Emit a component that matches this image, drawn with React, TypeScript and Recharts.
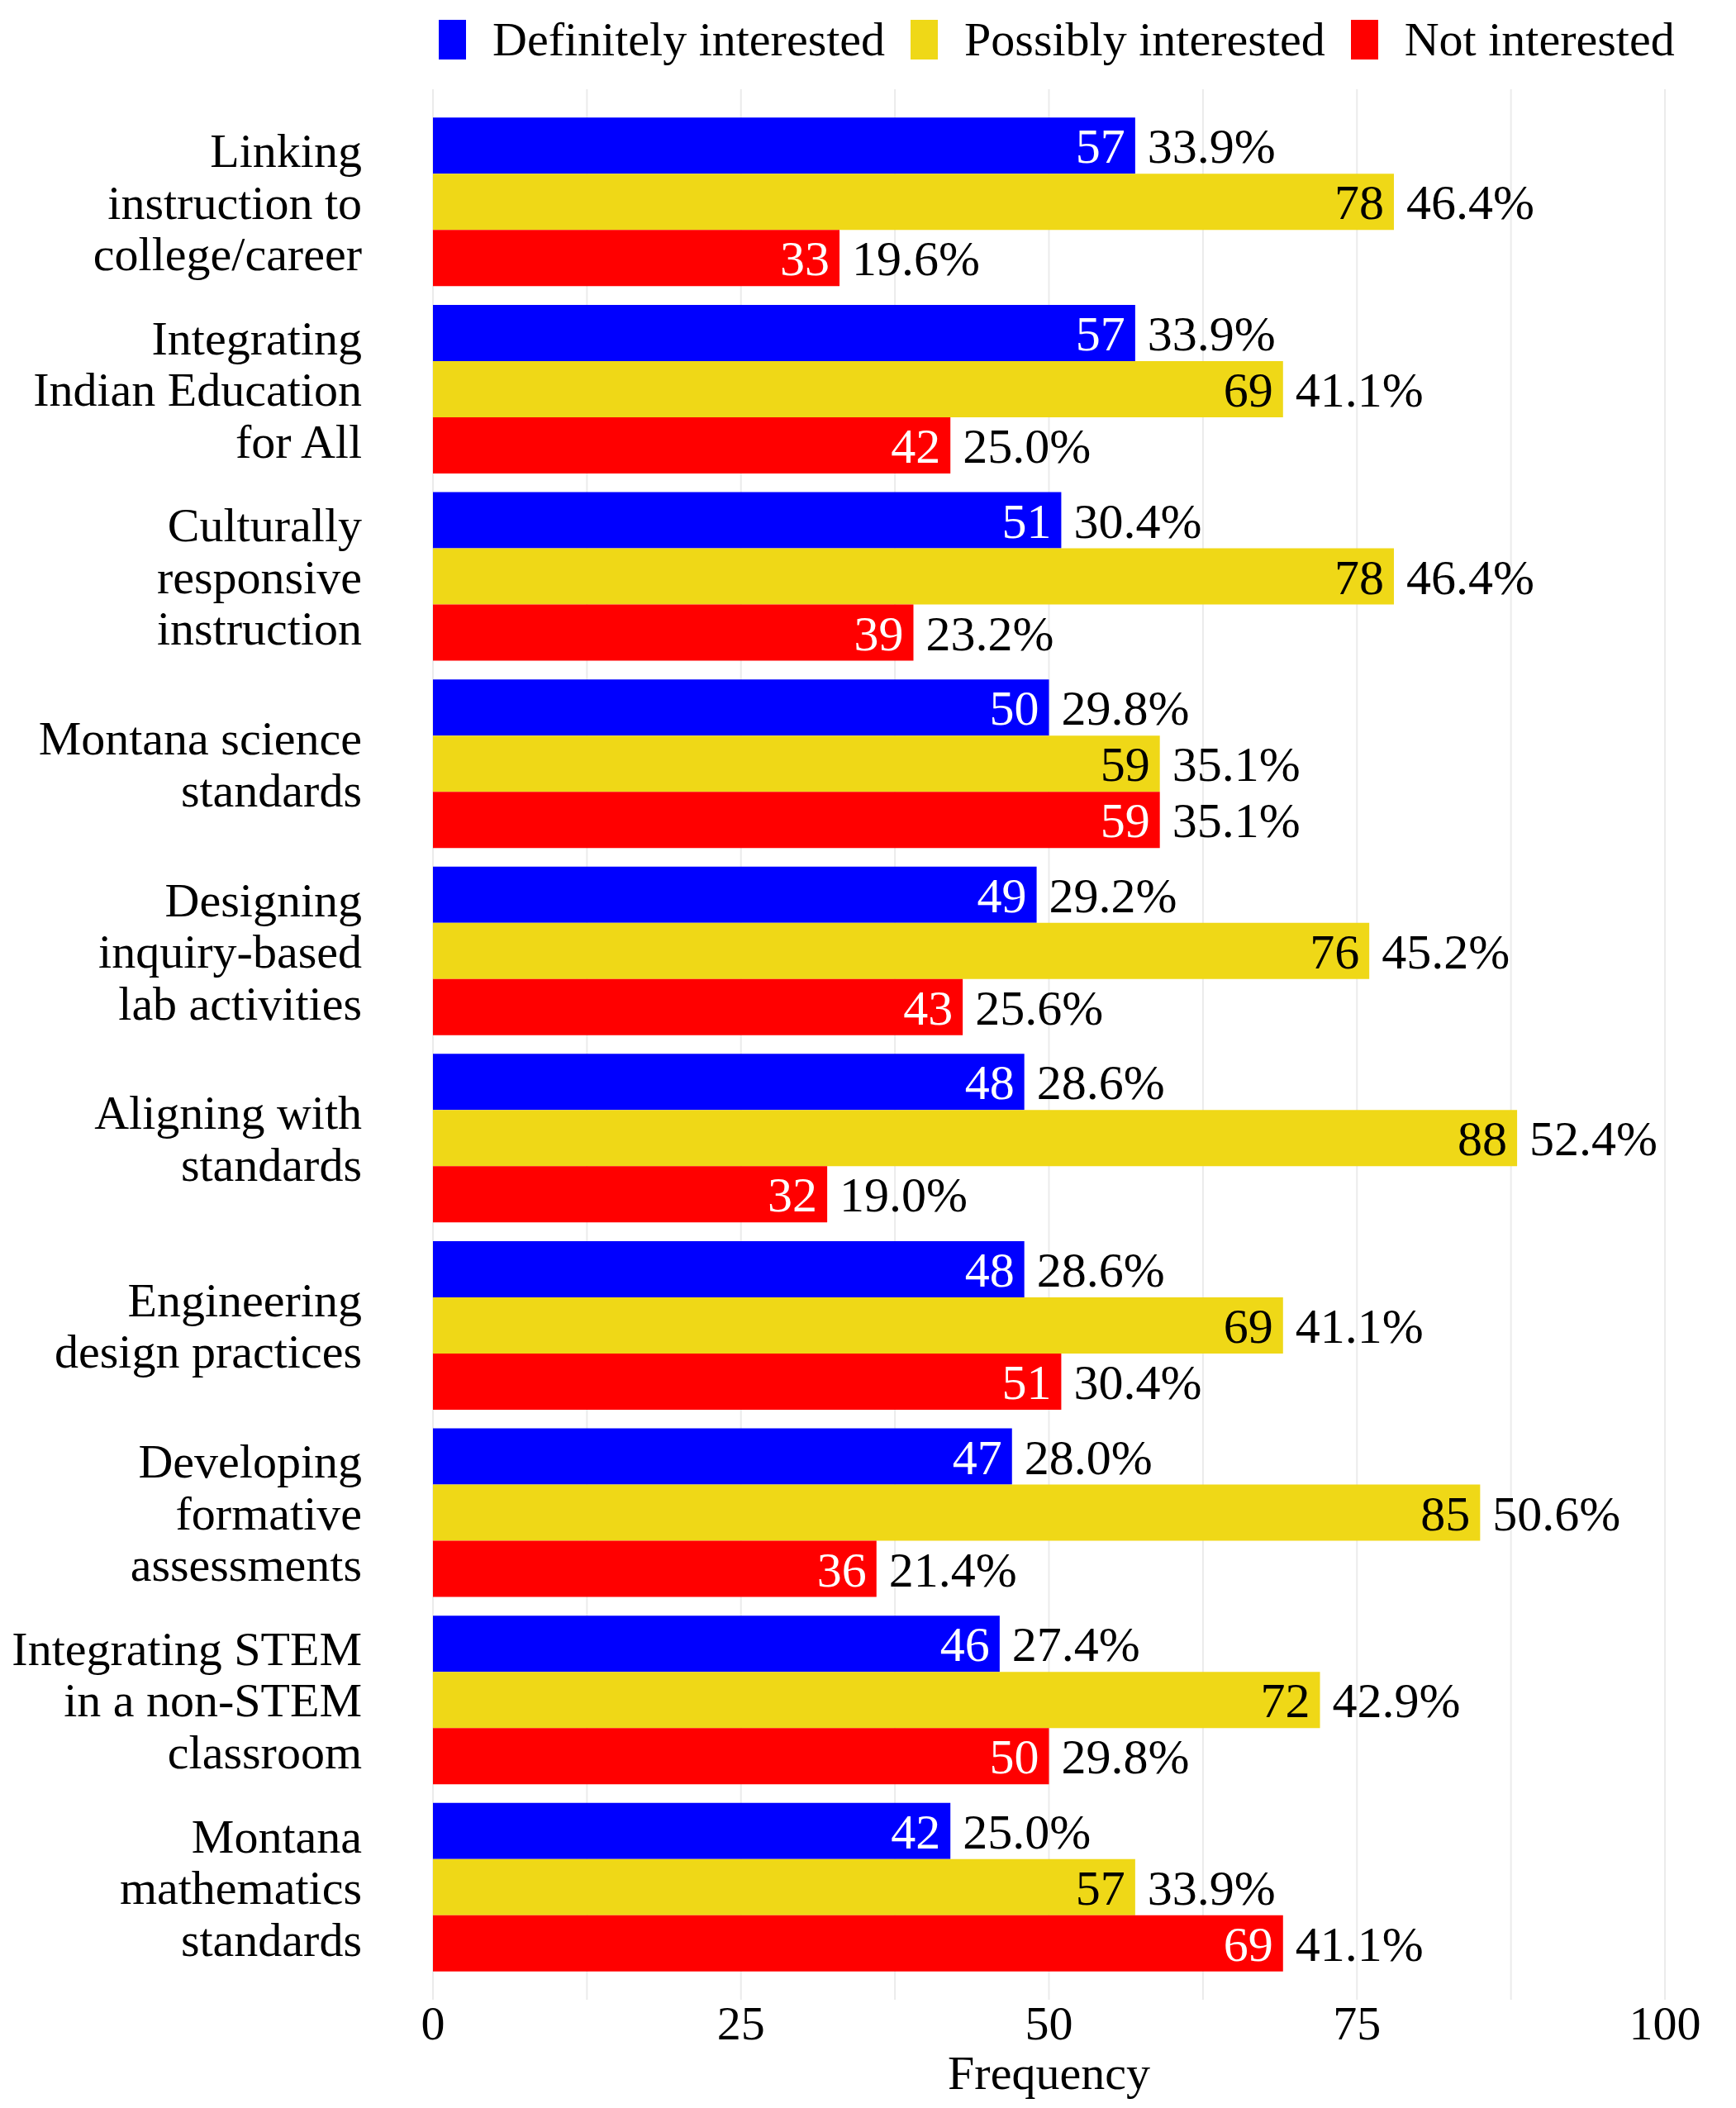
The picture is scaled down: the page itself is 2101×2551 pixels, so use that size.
import { BarChart, Bar, XAxis, YAxis, CartesianGrid, Legend, LabelList } from "recharts";

const FONT = '"Liberation Serif", "Times New Roman", serif';

// Topic labels, top to bottom, with their line breaks
const categories = [
	"Linking\ninstruction to\ncollege/career",
	"Integrating\nIndian Education\nfor All",
	"Culturally\nresponsive\ninstruction",
	"Montana science\nstandards",
	"Designing\ninquiry-based\nlab activities",
	"Aligning with\nstandards",
	"Engineering\ndesign practices",
	"Developing\nformative\nassessments",
	"Integrating STEM\nin a non-STEM\nclassroom",
	"Montana\nmathematics\nstandards",
];

// Counts per response
const definitely = [57, 57, 51, 50, 49, 48, 48, 47, 46, 42];
const possibly = [78, 69, 78, 59, 76, 88, 69, 85, 72, 57];
const notInterested = [33, 42, 39, 59, 43, 32, 51, 36, 50, 69];

// Percent labels shown next to each bar
const definitelyPct = ["33.9%", "33.9%", "30.4%", "29.8%", "29.2%", "28.6%", "28.6%", "28.0%", "27.4%", "25.0%"];
const possiblyPct = ["46.4%", "41.1%", "46.4%", "35.1%", "45.2%", "52.4%", "41.1%", "50.6%", "42.9%", "33.9%"];
const notPct = ["19.6%", "25.0%", "23.2%", "35.1%", "25.6%", "19.0%", "30.4%", "21.4%", "29.8%", "41.1%"];

// Grid positions (major every 25, minor in between)
const xTicks = [0, 12.5, 25, 37.5, 50, 62.5, 75, 87.5, 100];

const series = [
	{ key: "definitely", name: "Definitely interested", color: "#0000FF", inner: "#FFFFFF", pct: definitelyPct },
	{ key: "possibly", name: "Possibly interested", color: "#EFD817", inner: "#000000", pct: possiblyPct },
	{ key: "notInterested", name: "Not interested", color: "#FF0000", inner: "#FFFFFF", pct: notPct },
];

const data = categories.map((name, i) => ({
	name,
	definitely: definitely[i],
	possibly: possibly[i],
	notInterested: notInterested[i],
}));

// Multi-line, right-aligned topic labels
const CategoryTick = (props: { x?: number | string; y?: number | string; payload?: { value: string } }) => {
	const x = Number(props.x ?? 0) - 86;
	const y = Number(props.y ?? 0);
	const lines = String(props.payload?.value ?? "").split("\n");
	const lh = 62.5;
	const start = y - ((lines.length - 1) * lh) / 2;
	return (
		<text textAnchor="end" fontSize={58} fontFamily={FONT} fill="#000">
			{lines.map((l, i) => (
				<tspan key={i} x={x} y={start + i * lh} dy="0.35em">
					{l}
				</tspan>
			))}
		</text>
	);
};

// Only label the major ticks
const FreqTick = (props: { x?: number | string; y?: number | string; payload?: { value: number } }) => {
	const v = props.payload?.value ?? 0;
	if (v % 25 !== 0) return <g />;
	return (
		<text x={Number(props.x)} y={Number(props.y) + 48} textAnchor="middle" fontSize={58} fontFamily={FONT} fill="#000">
			{v}
		</text>
	);
};

// Count inside the bar end, percent just outside
const makeBarLabel = (pct: string[], inner: string) => (props: any) => {
	const { x, y, width, height, value, index } = props;
	const cy = Number(y) + Number(height) / 2;
	const end = Number(x) + Number(width);
	return (
		<g>
			<text x={end - 12} y={cy} dy="0.35em" textAnchor="end" fontSize={60} fontFamily={FONT} fill={inner}>
				{value}
			</text>
			<text x={end + 15} y={cy} dy="0.35em" textAnchor="start" fontSize={60} fontFamily={FONT} fill="#000">
				{pct[index]}
			</text>
		</g>
	);
};

const LegendContent = () => (
	<div style={{ height: 108, width: 2101, display: "flex", alignItems: "flex-start", paddingLeft: 531, paddingTop: 24, boxSizing: "border-box", fontFamily: FONT }}>
		{series.map((s) => (
			<div key={s.key} style={{ display: "flex", alignItems: "flex-start", marginRight: 31 }}>
				<div style={{ width: 33, height: 48, background: s.color }} />
				<div style={{ marginLeft: 32, fontSize: 58, lineHeight: "48px", color: "#000", whiteSpace: "nowrap" }}>{s.name}</div>
			</div>
		))}
	</div>
);

export default function App() {
	return (
		<div style={{ position: "absolute", left: 0, top: 0, width: 2101, height: 2551, background: "#fff" }}>
			<BarChart
				width={2101}
				height={2551}
				data={data}
				layout="vertical"
				margin={{ top: 0, right: 86, bottom: 0, left: 0 }}
				barCategoryGap="5%"
				barGap={0}
			>
				<CartesianGrid horizontal={false} stroke="#EBEBEB" strokeWidth={2} />
				<XAxis
					type="number"
					domain={[0, 100]}
					ticks={xTicks}
					interval={0}
					height={131}
					axisLine={false}
					tickLine={false}
					tickSize={0}
					tickMargin={0}
					tick={<FreqTick />}
					label={{ value: "Frequency", position: "insideBottom", offset: 23, fontSize: 58, fill: "#000", fontFamily: FONT }}
				/>
				<YAxis
					type="category"
					dataKey="name"
					width={524}
					axisLine={false}
					tickLine={false}
					tickSize={0}
					tickMargin={0}
					interval={0}
					padding={{ top: 23, bottom: 23 }}
					tick={<CategoryTick />}
				/>
				<Legend verticalAlign="top" align="left" wrapperStyle={{ top: 0, left: 0 }} content={() => <LegendContent />} />
				{series.map((s) => (
					<Bar key={s.key} dataKey={s.key} name={s.name} fill={s.color} isAnimationActive={false}>
						<LabelList dataKey={s.key} content={makeBarLabel(s.pct, s.inner)} />
					</Bar>
				))}
			</BarChart>
		</div>
	);
}
